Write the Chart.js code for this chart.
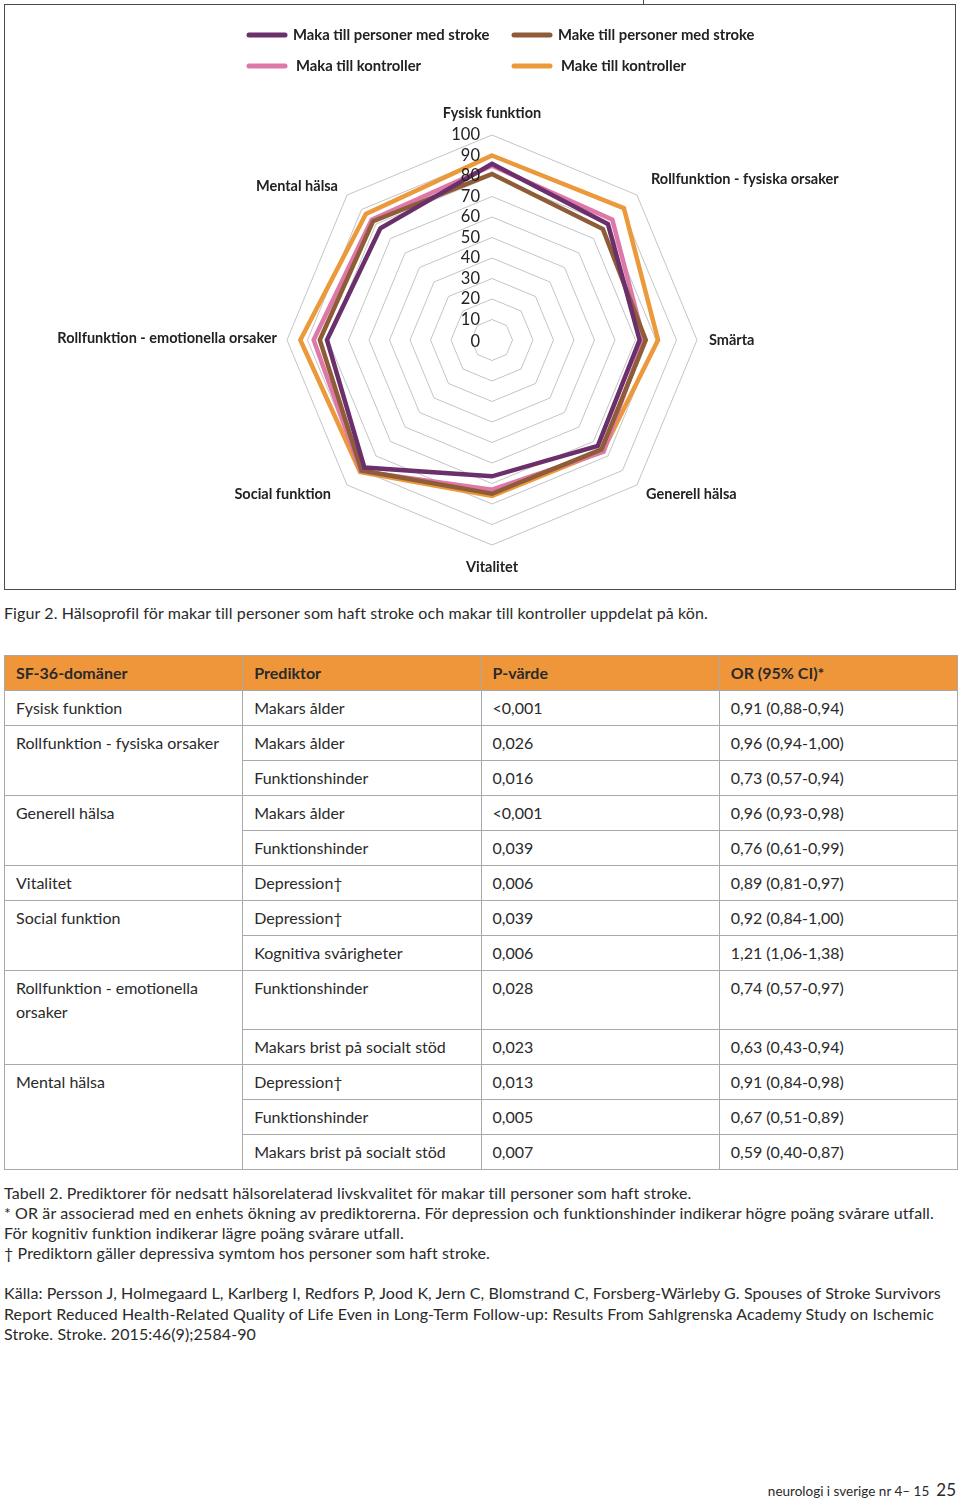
<!DOCTYPE html>
<html>
<head>
<meta charset="utf-8">
<script src="https://cdn.jsdelivr.net/npm/chart.js@4.4.1/dist/chart.umd.min.js"></script>
<style>
  html, body { margin: 0; padding: 0; background: #fff; }
  body { width: 960px; height: 1500px; position: relative; font-family: Lato, "Open Sans", sans-serif; color: #2a2a2a; }
  #box { position: absolute; left: 4px; top: 4px; width: 952px; height: 586px; border: 1px solid #4a4a4a; box-sizing: border-box; }
  #tick { position: absolute; left: 643px; top: 0; width: 1px; height: 4px; background: #4a4a4a; }
  #wrap { position: absolute; left: 0; top: 0; width: 950px; height: 584px; }
  .txt { position: absolute; left: 4px; font-size: 16px; line-height: 20px; white-space: nowrap; letter-spacing: 0.1px; }
  table { position: absolute; left: 4px; top: 655px; width: 954px; border-collapse: collapse; table-layout: fixed; font-size: 16px; }
  td, th { border: 1.5px solid #a9a9a9; padding: 5px 11px; line-height: 24px; vertical-align: top; text-align: left; font-weight: normal; }
  th { background: #f0963a; font-weight: 700; color: #2a2a2a; }
  #footer { position: absolute; right: 4px; top: 1479px; font-size: 13.5px; white-space: nowrap; }
  #footer b { font-size: 17px; font-weight: normal; margin-left: 7px; }
</style>
</head>
<body>
<div id="tick"></div>
<div id="box"><div id="wrap"><canvas id="c"></canvas></div></div>

<div class="txt" style="top:603px;">Figur 2. Hälsoprofil för makar till personer som haft stroke och makar till kontroller uppdelat på kön.</div>

<table>
  <colgroup><col><col><col><col></colgroup>
  <tr><th>SF-36-domäner</th><th>Prediktor</th><th>P-värde</th><th>OR (95% CI)*</th></tr>
  <tr><td>Fysisk funktion</td><td>Makars ålder</td><td>&lt;0,001</td><td>0,91 (0,88-0,94)</td></tr>
  <tr><td rowspan="2">Rollfunktion - fysiska orsaker</td><td>Makars ålder</td><td>0,026</td><td>0,96 (0,94-1,00)</td></tr>
  <tr><td>Funktionshinder</td><td>0,016</td><td>0,73 (0,57-0,94)</td></tr>
  <tr><td rowspan="2">Generell hälsa</td><td>Makars ålder</td><td>&lt;0,001</td><td>0,96 (0,93-0,98)</td></tr>
  <tr><td>Funktionshinder</td><td>0,039</td><td>0,76 (0,61-0,99)</td></tr>
  <tr><td>Vitalitet</td><td>Depression†</td><td>0,006</td><td>0,89 (0,81-0,97)</td></tr>
  <tr><td rowspan="2">Social funktion</td><td>Depression†</td><td>0,039</td><td>0,92 (0,84-1,00)</td></tr>
  <tr><td>Kognitiva svårigheter</td><td>0,006</td><td>1,21 (1,06-1,38)</td></tr>
  <tr style="height:59px;"><td rowspan="2">Rollfunktion - emotionella orsaker</td><td>Funktionshinder</td><td>0,028</td><td>0,74 (0,57-0,97)</td></tr>
  <tr><td>Makars brist på socialt stöd</td><td>0,023</td><td>0,63 (0,43-0,94)</td></tr>
  <tr><td rowspan="3">Mental hälsa</td><td>Depression†</td><td>0,013</td><td>0,91 (0,84-0,98)</td></tr>
  <tr><td>Funktionshinder</td><td>0,005</td><td>0,67 (0,51-0,89)</td></tr>
  <tr><td>Makars brist på socialt stöd</td><td>0,007</td><td>0,59 (0,40-0,87)</td></tr>
</table>

<div class="txt" style="top:1183px;">Tabell 2. Prediktorer för nedsatt hälsorelaterad livskvalitet för makar till personer som haft stroke.</div>
<div class="txt" style="top:1203px;">* OR är associerad med en enhets ökning av prediktorerna. För depression och funktionshinder indikerar högre poäng svårare utfall.</div>
<div class="txt" style="top:1223px;">För kognitiv funktion indikerar lägre poäng svårare utfall.</div>
<div class="txt" style="top:1243px;">† Prediktorn gäller depressiva symtom hos personer som haft stroke.</div>
<div class="txt" style="top:1283px;">Källa: Persson J, Holmegaard L, Karlberg I, Redfors P, Jood K, Jern C, Blomstrand C, Forsberg-Wärleby G. Spouses of Stroke Survivors</div>
<div class="txt" style="top:1304px;">Report Reduced Health-Related Quality of Life Even in Long-Term Follow-up: Results From Sahlgrenska Academy Study on Ischemic</div>
<div class="txt" style="top:1324px;">Stroke. Stroke. 2015:46(9);2584-90</div>

<div id="footer">neurologi i sverige nr 4– 15<b>25</b></div>

<script>
const categories = ["Fysisk funktion", "Rollfunktion - fysiska orsaker", "Smärta", "Generell hälsa", "Vitalitet", "Social funktion", "Rollfunktion - emotionella orsaker", "Mental hälsa"];
const seriesNames = ["Maka till personer med stroke", "Make till personer med stroke", "Maka till kontroller", "Make till kontroller"];
const makaStroke = [86, 80, 72, 73, 66.5, 88, 80.5, 77];
const makeStroke = [81, 76.5, 75, 75.5, 75, 90, 84, 82];
const makaKontroller = [85, 83, 74, 77, 73, 90.5, 87, 83];
const makeKontroller = [90, 91, 81, 76.5, 76, 91, 93.5, 87];
const tickValues = [0, 10, 20, 30, 40, 50, 60, 70, 80, 90, 100];
const colors = ["#6b2f6b", "#8e5c37", "#de78a8", "#eb993b"];

const FONT = "Lato, 'Open Sans', sans-serif";

const radarDecor = {
  id: 'radarDecor',
  afterDraw(chart) {
    const ctx = chart.ctx;
    const s = chart.scales.r;
    ctx.save();
    // tick labels
    ctx.fillStyle = '#222';
    ctx.font = '16.5px ' + FONT;
    ctx.textAlign = 'right';
    ctx.textBaseline = 'middle';
    tickValues.forEach(v => {
      const d = s.getDistanceFromCenterForValue(v);
      ctx.fillText(String(v), s.xCenter - 12, s.yCenter - d + (v === 0 ? 2 : 0));
    });
    // point labels
    ctx.font = 'bold 14.5px ' + FONT;
    ctx.fillStyle = '#222';
    const n = categories.length;
    categories.forEach((lab, i) => {
      const p = s.getPointPosition(i, s.drawingArea + 10);
      const ang = i * 2 * Math.PI / n;
      const sx = Math.sin(ang), cy = -Math.cos(ang);
      let x = p.x, y = p.y;
      if (Math.abs(sx) < 0.01) {
        ctx.textAlign = 'center';
        y += cy * 12;
      } else if (sx > 0) {
        ctx.textAlign = 'left';
        if (cy < -0.1) { x += 7; y -= 9; }
        else if (cy > 0.1) { x += 2; y += 2; }
        else { x += 2; }
      } else {
        ctx.textAlign = 'right';
        if (cy < -0.1) { x -= 2; y -= 2; }
        else if (cy > 0.1) { x -= 9; y += 2; }
        else { y -= 2; }
      }
      ctx.textBaseline = 'middle';
      ctx.fillText(lab, x, y);
    });
    // legend
    const cols = [s.xCenter - 245, s.xCenter + 20];
    const rows = [30, 61];
    chart.data.datasets.forEach((ds, i) => {
      const cx = cols[i % 2], ry = rows[Math.floor(i / 2)];
      ctx.strokeStyle = ds.borderColor;
      ctx.lineWidth = 5;
      ctx.lineCap = 'round';
      ctx.beginPath();
      ctx.moveTo(cx + 2, ry);
      ctx.lineTo(cx + 38, ry);
      ctx.stroke();
      ctx.fillStyle = '#222';
      ctx.font = 'bold 14.8px ' + FONT;
      ctx.textAlign = 'left';
      ctx.textBaseline = 'middle';
      ctx.fillText(ds.label, cx + 46 + (i >= 2 ? 3 : 0), ry);
    });
    ctx.restore();
  }
};

const seriesData = [makaStroke, makeStroke, makaKontroller, makeKontroller];
new Chart(document.getElementById('c'), {
  type: 'radar',
  data: {
    labels: categories,
    datasets: seriesData.map((d, i) => ({
      label: seriesNames[i],
      data: d,
      borderColor: colors[i],
      backgroundColor: colors[i],
      borderWidth: 4.5,
      fill: false,
      pointRadius: 0,
      pointHoverRadius: 0,
      tension: 0,
      borderJoinStyle: 'miter'
    }))
  },
  options: {
    responsive: true,
    maintainAspectRatio: false,
    animation: false,
    layout: { padding: { left: 282, top: 129, right: 257, bottom: 43 } },
    plugins: { legend: { display: false }, tooltip: { enabled: false } },
    scales: {
      r: {
        min: 0,
        max: 100,
        ticks: { stepSize: 10, display: false },
        grid: { color: '#c4c4c4', lineWidth: 1 },
        angleLines: { display: false },
        pointLabels: { display: false }
      }
    }
  },
  plugins: [radarDecor]
});
</script>
</body>
</html>
